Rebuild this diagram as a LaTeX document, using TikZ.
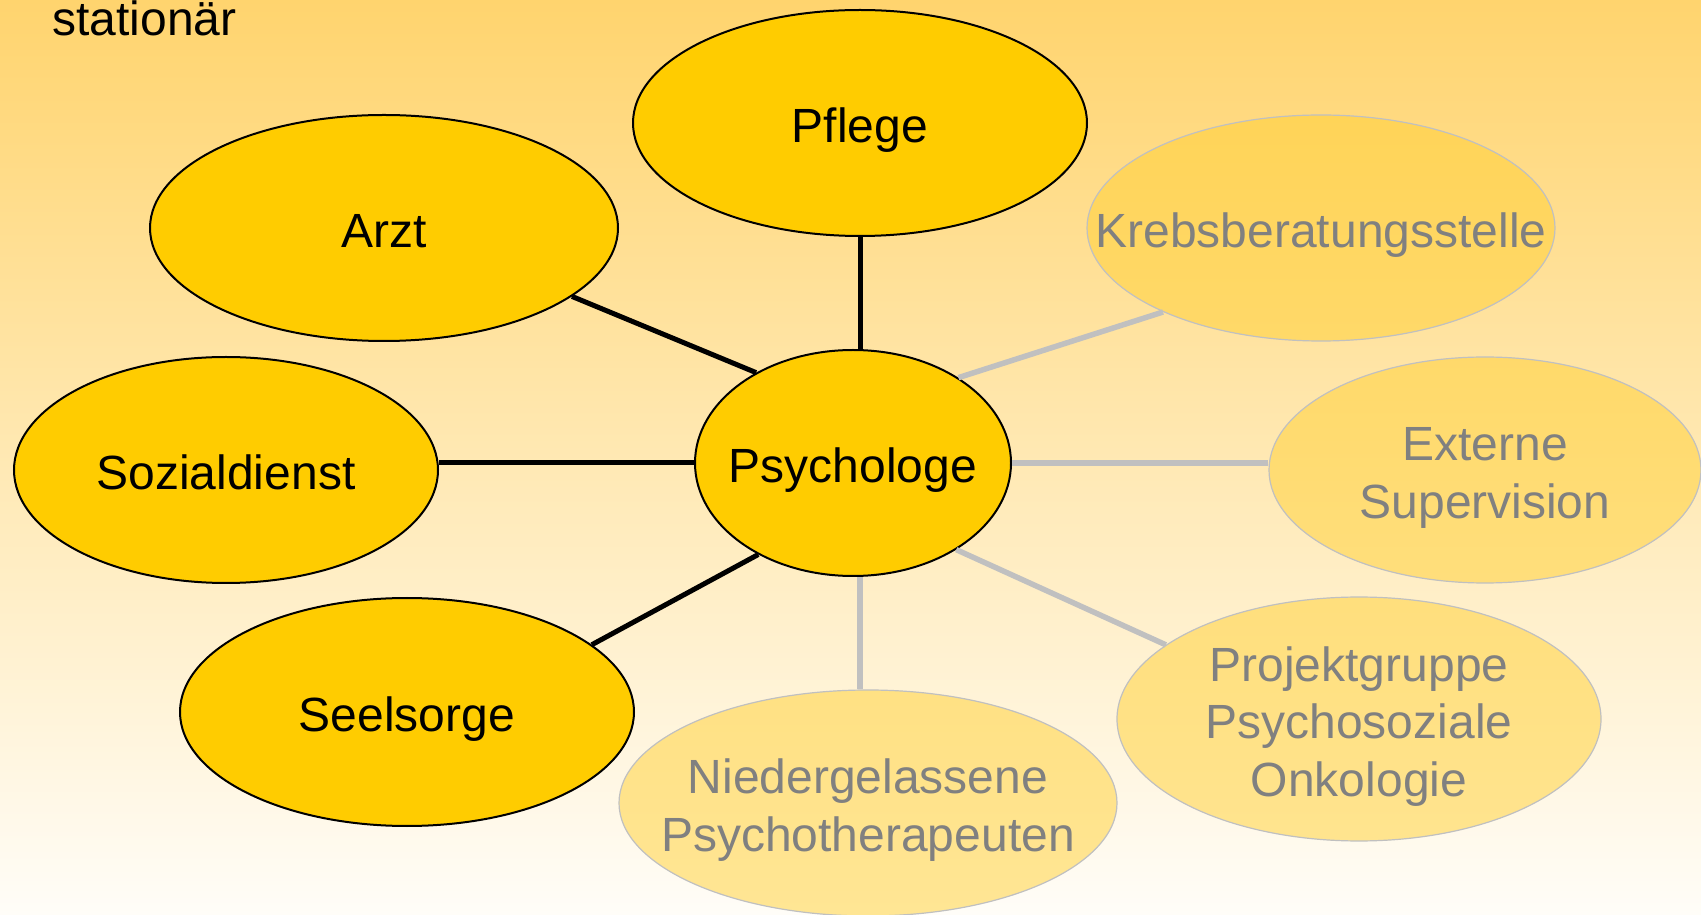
\documentclass[tikz,border=0pt]{standalone}
\usepackage{fontspec}
\setmainfont{Liberation Sans}
\usetikzlibrary{shapes.geometric}
\definecolor{gold}{RGB}{255,204,0}
\definecolor{pale}{RGB}{255,208,50}
\definecolor{grey}{RGB}{128,128,128}
\definecolor{lgrey}{RGB}{192,192,192}
\definecolor{bgtop}{RGB}{255,212,110}
\definecolor{bgbot}{RGB}{255,253,248}
\newcommand{\ovaltext}[1]{\makebox[0pt]{\raisebox{-8pt}[\height][\depth]{\begin{tabular}{@{}c@{}}#1\end{tabular}}}}

\begin{document}
\begin{tikzpicture}[x=1pt,y=1pt]
    \tikzset{%
      inner/.style={ellipse, draw=black, line width=2pt, fill=gold,
        inner sep=0pt, font=\fontsize{48}{57.5}\selectfont},
      outer/.style={ellipse, draw=lgrey, line width=1.2pt, fill=pale,
        fill opacity=0.5, text opacity=1, text=grey, inner sep=0pt,
        font=\fontsize{48}{57.5}\selectfont},
      strong/.style={line width=5pt, black},
      weak/.style={line width=5.5pt, lgrey},
    }
    \useasboundingbox (0,0) rectangle (1701,914);
    \shade[top color=bgtop, bottom color=bgbot] (0,0) rectangle (1701,914);
    \node[anchor=base west, font=\fontsize{48}{57.5}\selectfont] (title) at (49,878) {stationär};

    % Psychologe und direkte Partner
    \node[inner, minimum width=316, minimum height=226] (psy) at (853,451) {\ovaltext{Psychologe}};
    \node[inner, minimum width=454, minimum height=226] (pfl) at (860,791) {\ovaltext{Pflege}};
    \node[inner, minimum width=468, minimum height=226] (arzt) at (384,686) {\ovaltext{Arzt}};
    \node[inner, minimum width=424, minimum height=226] (soz) at (226,444) {\ovaltext{Sozialdienst}};
    \node[inner, minimum width=454, minimum height=228] (seel) at (407,202) {\ovaltext{Seelsorge}};

    % externe Partner
    \node[outer, minimum width=468, minimum height=226] (krebs) at (1321,686) {\ovaltext{Krebsberatungsstelle}};
    \node[outer, minimum width=432, minimum height=226] (sup) at (1485,444) {\ovaltext{Externe\\Supervision}};
    \node[outer, minimum width=484, minimum height=242] (proj) at (1359,195) {\ovaltext{Projektgruppe\\Psychosoziale\\Onkologie}};
    \node[outer, minimum width=498, minimum height=226] (nied) at (868,111) {\ovaltext{Niedergelassene\\Psychotherapeuten}};

    \draw [strong] (pfl.south) -- (pfl.south |- psy.north);
    \draw [strong] (arzt.340) -- (psy.137);
    \draw [strong] (psy.west) -- (soz.east |- psy.west);
    \draw [strong] (seel.20.5) -- (psy.224);

    \draw [weak] (psy.39.5) -- (krebs.208);
    \draw [weak] (psy.east) -- (sup.west |- psy.east);
    \draw [weak] (psy.320) -- (proj.159);
    \draw [weak] (psy.south -| pfl.south) -- (nied.north -| pfl.south);
  \end{tikzpicture}
\end{document}
